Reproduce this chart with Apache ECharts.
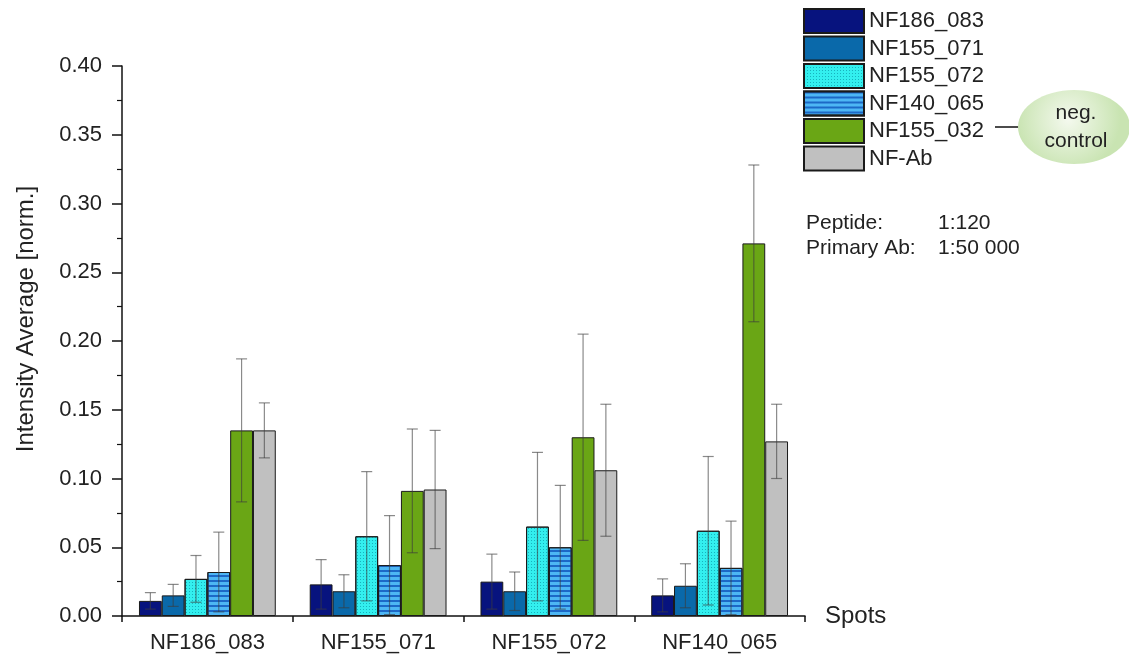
<!DOCTYPE html>
<html>
<head>
<meta charset="utf-8">
<script src="https://cdn.jsdelivr.net/npm/echarts@6/dist/echarts.min.js"></script>
<style>
html,body{margin:0;padding:0;background:#fff;}
#chart{width:1129px;height:657px;}
</style>
</head>
<body>
<div id="chart"></div>
<script>
// ---- data ----
const categories = ['NF186_083', 'NF155_071', 'NF155_072', 'NF140_065'];
const seriesNames = ['NF186_083', 'NF155_071', 'NF155_072', 'NF140_065', 'NF155_032', 'NF-Ab'];
const yTicks = [0, 0.05, 0.10, 0.15, 0.20, 0.25, 0.30, 0.35, 0.40];

const meanNF186_083 = [0.011, 0.023, 0.025, 0.015];
const meanNF155_071 = [0.015, 0.018, 0.018, 0.022];
const meanNF155_072 = [0.027, 0.058, 0.065, 0.062];
const meanNF140_065 = [0.032, 0.037, 0.050, 0.035];
const meanNF155_032 = [0.135, 0.091, 0.130, 0.271];
const meanNFAb      = [0.135, 0.092, 0.106, 0.127];

const sdNF186_083 = [0.006, 0.018, 0.020, 0.012];
const sdNF155_071 = [0.008, 0.012, 0.014, 0.016];
const sdNF155_072 = [0.017, 0.047, 0.054, 0.054];
const sdNF140_065 = [0.029, 0.036, 0.045, 0.034];
const sdNF155_032 = [0.052, 0.045, 0.075, 0.057];
const sdNFAb      = [0.020, 0.043, 0.048, 0.027];

const means = [meanNF186_083, meanNF155_071, meanNF155_072, meanNF140_065, meanNF155_032, meanNFAb];
const sds = [sdNF186_083, sdNF155_071, sdNF155_072, sdNF140_065, sdNF155_032, sdNFAb];

// ---- styles ----
const FONT = "'Liberation Sans', Arial, sans-serif";
const BW = 22.8;
const colors = ['#07137e', '#0a69aa', '#33efef', '#4db6f4', '#6aa615', '#c0c0c0'];
const decals = [
  null,
  null,
  {symbol:'rect', symbolSize:1, dashArrayX:[1,2], dashArrayY:[1,2], rotation:0, color:'rgba(0,130,150,0.55)'},
  {symbol:'rect', symbolSize:1, dashArrayX:[1,0], dashArrayY:[1.1,3], rotation:0, color:'rgba(20,90,190,0.85)'},
  null,
  null
];

const chart = echarts.init(document.getElementById('chart'), null, {renderer:'canvas'});

const barSeries = seriesNames.map((n, k) => ({
  type:'bar',
  name:n,
  data:means[k],
  barWidth:BW,
  barGap:'0%',
  itemStyle:Object.assign({color:colors[k], borderColor:'#1a1a1a', borderWidth:1},
    decals[k] ? {decal:decals[k]} : {}),
  z:2
}));

const errSeries = seriesNames.map((n, k) => ({
  type:'custom',
  name:'err_' + n,
  xAxisIndex:0,
  yAxisIndex:0,
  silent:true,
  z:5,
  encode:{x:0, y:1},
  data:means[k].map((m, i) => [i, m, sds[k][i]]),
  renderItem:function(params, api){
    const i = api.value(0), m = api.value(1), s = api.value(2);
    const c = api.coord([i, m]);
    const x = c[0] + (k - 2.5) * BW;
    const yt = api.coord([i, m + s])[1];
    const yb = api.coord([i, Math.max(m - s, 0)])[1];
    const hw = 5.5;
    const st = {stroke:'rgba(60,60,60,0.6)', lineWidth:1.2};
    return {type:'group', children:[
      {type:'line', shape:{x1:x, y1:yt, x2:x, y2:yb}, style:st},
      {type:'line', shape:{x1:x-hw, y1:yt, x2:x+hw, y2:yt}, style:st},
      {type:'line', shape:{x1:x-hw, y1:yb, x2:x+hw, y2:yb}, style:st}
    ]};
  }
}));

const option = {
  backgroundColor:'#ffffff',
  animation:false,
  textStyle:{fontFamily:FONT},
  grid:{left:122, right:324, top:66, bottom:41},
  legend:{
    orient:'vertical',
    left:803, top:8,
    padding:0,
    data:seriesNames,
    icon:'rect',
    itemWidth:60, itemHeight:24, itemGap:1.5,
    textStyle:{fontFamily:FONT, fontSize:22, lineHeight:24, color:'#222'}
  },
  xAxis:[{
    type:'category',
    data:categories,
    position:'bottom',
    name:'Spots',
    nameLocation:'end',
    nameGap:20,
    nameTextStyle:{fontFamily:FONT, fontSize:24, color:'#222', verticalAlign:'middle', padding:[6,0,0,0]},
    axisLine:{lineStyle:{color:'#111', width:1.5}},
    axisTick:{alignWithLabel:true, length:10, lineStyle:{color:'#111', width:1.5}},
    axisLabel:{fontFamily:FONT, fontSize:22, color:'#222', margin:16},
    splitLine:{show:false}
  },{
    type:'category',
    data:categories,
    position:'bottom',
    axisLine:{show:false},
    axisTick:{show:true, length:6, lineStyle:{color:'#111', width:1.5}},
    axisLabel:{show:false},
    splitLine:{show:false}
  }],
  yAxis:{
    type:'value',
    min:yTicks[0], max:yTicks[yTicks.length-1], interval:0.05,
    axisLine:{show:true, lineStyle:{color:'#111', width:1.5}},
    axisTick:{show:true, length:10, lineStyle:{color:'#111', width:1.5}},
    minorTick:{show:true, splitNumber:2, length:5, lineStyle:{color:'#111', width:1.2}},
    axisLabel:{fontFamily:FONT, fontSize:22, color:'#222', margin:20, formatter:v => v.toFixed(2)},
    splitLine:{show:false}
  },
  graphic:[
    {type:'text', x:26, y:319, rotation:Math.PI/2,
     style:{text:'Intensity Average [norm.]', font:'24px ' + FONT, fill:'#222', align:'center', verticalAlign:'middle'}},
    {type:'line', shape:{x1:995, y1:127, x2:1019, y2:127}, style:{stroke:'#111', lineWidth:1.5}},
    {type:'ellipse', shape:{cx:1074, cy:127, rx:56, ry:37},
     style:{fill:new echarts.graphic.RadialGradient(0.45, 0.4, 0.7, [
       {offset:0, color:'#f4f9ee'}, {offset:1, color:'#c9e4b2'}]), stroke:null}},
    {type:'text', x:1076, y:113, style:{text:'neg.', font:'21px ' + FONT, fill:'#222', align:'center', verticalAlign:'middle'}},
    {type:'text', x:1076, y:141, style:{text:'control', font:'21px ' + FONT, fill:'#222', align:'center', verticalAlign:'middle'}},
    {type:'text', x:806, y:223, style:{text:'Peptide:', font:'21px ' + FONT, fill:'#222', verticalAlign:'middle'}},
    {type:'text', x:938, y:223, style:{text:'1:120', font:'21px ' + FONT, fill:'#222', verticalAlign:'middle'}},
    {type:'text', x:806, y:248, style:{text:'Primary Ab:', font:'21px ' + FONT, fill:'#222', verticalAlign:'middle'}},
    {type:'text', x:938, y:248, style:{text:'1:50 000', font:'21px ' + FONT, fill:'#222', verticalAlign:'middle'}}
  ],
  series:barSeries.concat(errSeries)
};

chart.setOption(option);
</script>
</body>
</html>
